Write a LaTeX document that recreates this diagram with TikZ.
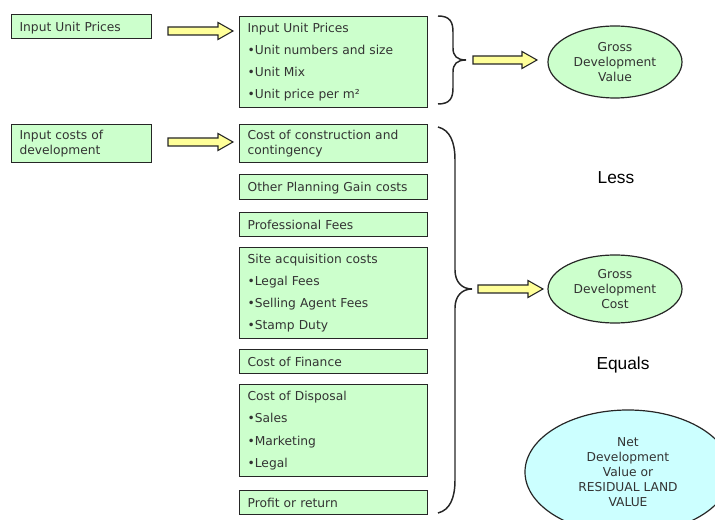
\documentclass[tikz,border=0pt]{standalone}
\usepackage{fontspec}
\setmainfont{DejaVu Sans}
\newfontfamily\arialfont{Liberation Sans}
\usetikzlibrary{shapes.geometric, calc}

\definecolor{boxgreen}{RGB}{204,255,204}
\definecolor{boxcyan}{RGB}{204,255,255}
\definecolor{arrowyellow}{RGB}{255,255,153}
\definecolor{txtgrey}{RGB}{51,51,51}

\tikzset{
  inbox/.style={draw=black!85, line width=0.9pt, fill=boxgreen, anchor=north west,
    inner xsep=6pt, inner ysep=0pt, align=left, text=txtgrey,
    font=\fontsize{9.2}{11.25}\selectfont},
  onebox/.style={inbox, text depth=0pt},
  listbox/.style={inbox, font=\fontsize{9.2}{16.7}\selectfont},
  sumell/.style={ellipse, draw=black!85, line width=0.9pt, fill=boxgreen, inner sep=0pt,
    align=center, text=txtgrey, font=\fontsize{9.2}{11.25}\selectfont},
  fatarrow/.style={draw=black!85, line width=0.8pt, fill=arrowyellow, line join=miter},
  bracket/.style={draw=black!85, line width=1.1pt},
  word/.style={font=\arialfont\fontsize{13}{15}\selectfont}
}

% block arrow from #1 to the tip #2
\newcommand{\blockarrow}[2]{%
  \draw[fatarrow] ($(#1)+(0,4)$) -- ($(#2)+(-15,4)$) -- ($(#2)+(-15,8.5)$) -- (#2)
    -- ($(#2)+(-15,-8.5)$) -- ($(#2)+(-15,-4)$) -- ($(#1)+(0,-4)$) -- cycle;}

\begin{document}
\begin{tikzpicture}[x=0.75pt, y=-0.75pt]
\useasboundingbox (0,0) rectangle (715,520);

% inputs
\node[onebox, text width=93pt, minimum height=18pt] (inUnit) at (11,14) {Input Unit Prices};
\node[inbox, text width=93pt, minimum height=28.5pt] (inCost) at (11,124) {Input costs of\\development};

% value side
\node[listbox, text width=129pt, minimum height=68.25pt] (unitList) at (239,16)
  {Input Unit Prices\\•Unit numbers and size\\•Unit Mix\\•Unit price per m²};

% cost side
\node[inbox, text width=129pt, minimum height=28.5pt] (construct) at (239,124) {Cost of construction and\\contingency};
\node[onebox, text width=129pt, minimum height=18.75pt] (planning) at (239,174) {Other Planning Gain costs};
\node[onebox, text width=129pt, minimum height=18pt] (fees) at (239,212) {Professional Fees};
\node[listbox, text width=129pt, minimum height=68.25pt] (site) at (239,247)
  {Site acquisition costs\\•Legal Fees\\•Selling Agent Fees\\•Stamp Duty};
\node[onebox, text width=129pt, minimum height=18pt] (finance) at (239,349) {Cost of Finance};
\node[listbox, text width=129pt, minimum height=69pt] (disposal) at (239,384)
  {Cost of Disposal\\•Sales\\•Marketing\\•Legal};
\node[onebox, text width=129pt, minimum height=18pt] (profit) at (239,490) {Profit or return};

% results
\node[sumell, minimum width=100.5pt, minimum height=54pt] (gdv) at (615,62) {Gross\\Development\\Value};
\node[sumell, minimum width=100.5pt, minimum height=51pt] (gdc) at (615,289) {Gross\\Development\\Cost};
\node[sumell, fill=boxcyan, minimum width=154.5pt, minimum height=93pt] (ndv) at (628,472)
  {Net\\Development\\Value or\\RESIDUAL LAND\\VALUE};

\node[word] (less) at (616,178) {Less};
\node[word] (equals) at (623,365) {Equals};

% braces
\draw[bracket] (438,16) .. controls (450,16) and (453,22) .. (453,32) -- (453,48)
  .. controls (453,56) and (457,60) .. (466,60) .. controls (457,60) and (453,64) .. (453,72)
  -- (453,88) .. controls (453,98) and (450,104) .. (438,104);
\draw[bracket] (438,127) .. controls (450,130) and (455,142) .. (455,160) -- (455,270)
  .. controls (455,282) and (462,289) .. (472,289) .. controls (462,289) and (455,296) .. (455,308)
  -- (455,480) .. controls (455,498) and (450,510) .. (438,513);

% arrows
\coordinate (a1s) at (168,31);  \coordinate (a1e) at (233,31);
\coordinate (a2s) at (473,60);  \coordinate (a2e) at (537,60);
\coordinate (a3s) at (168,142); \coordinate (a3e) at (233,142);
\coordinate (a4s) at (478,289); \coordinate (a4e) at (543,289);
\blockarrow{a1s}{a1e}
\blockarrow{a2s}{a2e}
\blockarrow{a3s}{a3e}
\blockarrow{a4s}{a4e}

\end{tikzpicture}
\end{document}
